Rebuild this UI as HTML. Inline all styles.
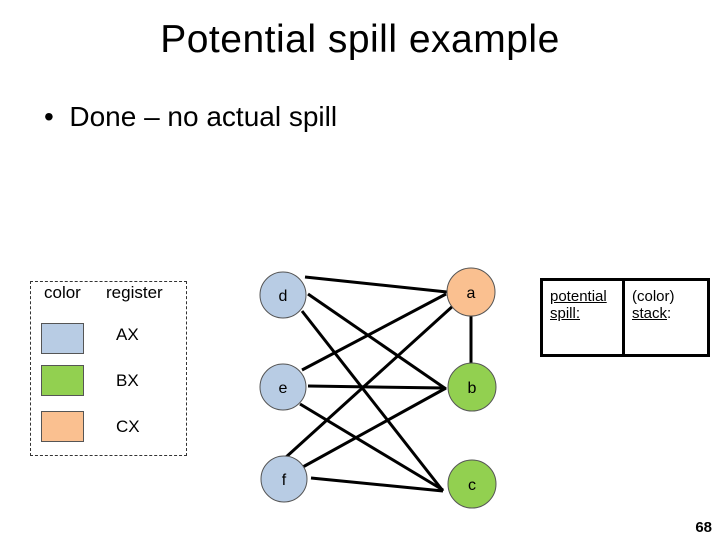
<!DOCTYPE html>
<html><head><style>
body{margin:0;width:720px;height:540px;background:#fff;position:relative;overflow:hidden;font-family:"Liberation Sans",sans-serif;}
.t{position:absolute;white-space:nowrap;}
</style></head><body>
<div class="t" style="left:0;width:720px;text-align:center;top:18px;font-size:39px;letter-spacing:0.5px;">Potential spill example</div>
<div class="t" style="left:44px;top:101px;font-size:28px;">•&nbsp;&nbsp;Done – no actual spill</div>
<div style="position:absolute;left:30px;top:281px;width:155px;height:173px;border:1.5px dashed #333;"></div>
<div class="t" style="left:44px;top:283px;font-size:17px;">color</div>
<div class="t" style="left:106px;top:283px;font-size:17px;">register</div>
<div style="position:absolute;left:41px;top:323px;width:41px;height:29px;background:#b8cce4;border:1px solid #555;"></div>
<div style="position:absolute;left:41px;top:365px;width:41px;height:29px;background:#92d050;border:1px solid #555;"></div>
<div style="position:absolute;left:41px;top:411px;width:41px;height:29px;background:#fac090;border:1px solid #555;"></div>
<div class="t" style="left:116px;top:325px;font-size:17px;">AX</div>
<div class="t" style="left:116px;top:371px;font-size:17px;">BX</div>
<div class="t" style="left:116px;top:417px;font-size:17px;">CX</div>
<div style="position:absolute;left:540px;top:278px;width:164px;height:73px;border:3px solid #000;"></div>
<div style="position:absolute;left:622px;top:278px;width:3px;height:79px;background:#000;"></div>
<div class="t" style="left:550px;top:288px;font-size:15px;line-height:17px;text-decoration:underline;">potential<br>spill:</div>
<div class="t" style="left:632px;top:288px;font-size:15px;line-height:17px;">(color)<br><u>stack</u>:</div>
<svg width="720" height="540" style="position:absolute;left:0;top:0" font-family="Liberation Sans, sans-serif" font-size="16">
<g stroke="#000" stroke-width="3">
<line x1="305" y1="277" x2="447" y2="292"/>
<line x1="308" y1="294" x2="446" y2="389"/>
<line x1="302" y1="311" x2="443" y2="491"/>
<line x1="302" y1="370" x2="446" y2="294"/>
<line x1="308" y1="386" x2="445" y2="388"/>
<line x1="300" y1="404" x2="443" y2="490"/>
<line x1="285" y1="458" x2="454" y2="305"/>
<line x1="301" y1="468" x2="446" y2="388"/>
<line x1="311" y1="478" x2="443" y2="491"/>
<line x1="471" y1="316" x2="471" y2="365"/>
</g>
<g stroke="#555" stroke-width="1">
<circle cx="283" cy="295" r="23" fill="#b8cce4"/>
<circle cx="283" cy="387" r="23" fill="#b8cce4"/>
<circle cx="284" cy="479" r="23" fill="#b8cce4"/>
<circle cx="471" cy="292" r="24" fill="#fac090"/>
<circle cx="472" cy="387" r="24" fill="#92d050"/>
<circle cx="472" cy="484" r="24" fill="#92d050"/>
</g>
<g text-anchor="middle">
<text x="283" y="301">d</text><text x="283" y="393">e</text><text x="284" y="485">f</text>
<text x="471" y="298">a</text><text x="472" y="393">b</text><text x="472" y="490">c</text>
</g>
<text x="712" y="532" text-anchor="end" font-weight="bold" font-size="15">68</text>
</svg>
</body></html>
